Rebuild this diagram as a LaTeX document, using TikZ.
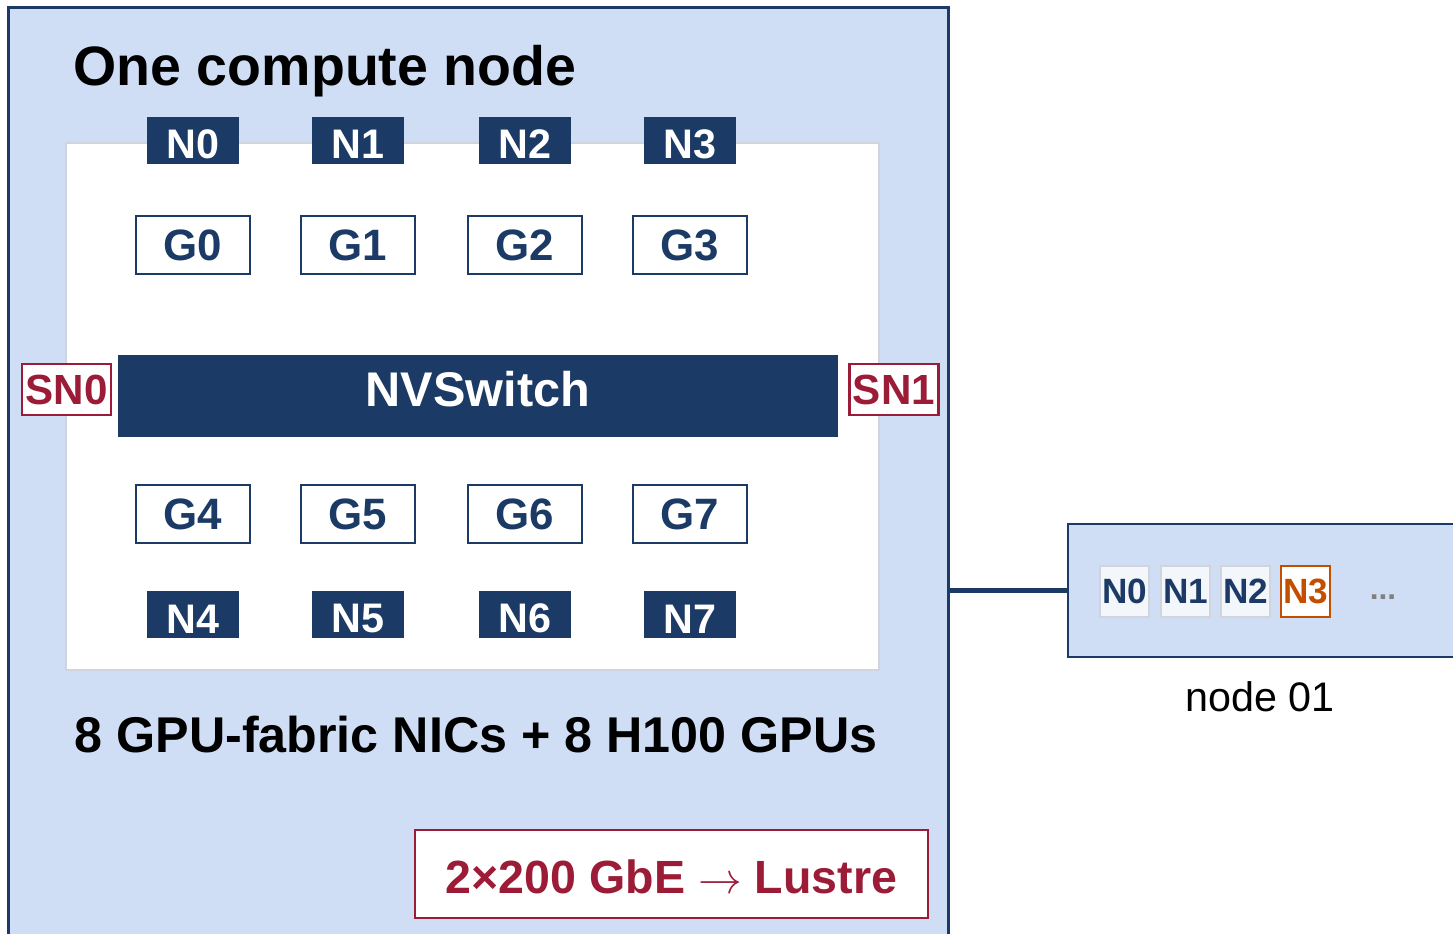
\documentclass[tikz,border=0pt]{standalone}
\usepackage{fontspec}
\setmainfont{Liberation Sans}
\definecolor{navy}{RGB}{27,58,102}
\definecolor{paleblue}{RGB}{207,221,245}
\definecolor{wine}{RGB}{156,27,55}
\definecolor{rust}{RGB}{196,78,0}
\definecolor{edgegray}{RGB}{208,213,221}
\definecolor{chipgray}{RGB}{243,246,250}
\tikzset{
  nicbox/.style={fill=navy,text=white,inner sep=0pt,minimum width=1.84cm,minimum height=0.94cm,text height=0.74cm,font=\fontsize{23.5}{26}\selectfont\bfseries},
  gpubox/.style={draw=navy,line width=1.6pt,fill=white,text=navy,inner sep=0pt,minimum width=2.28cm,minimum height=1.16cm,font=\fontsize{25}{28}\selectfont\bfseries},
  snbox/.style={draw=wine,line width=1.6pt,fill=white,text=wine,inner sep=0pt,minimum width=1.78cm,minimum height=1.02cm,font=\fontsize{24}{27}\selectfont\bfseries},
  chipbox/.style={draw=edgegray,line width=1pt,fill=chipgray,text=navy,inner sep=0pt,minimum width=0.98cm,minimum height=1.02cm,font=\fontsize{20}{23}\selectfont\bfseries},
}
\begin{document}
\begin{tikzpicture}[x=0.02cm,y=-0.02cm]
  \useasboundingbox (0,0) rectangle (1453,933);
  \clip (0,0) rectangle (1453,933);
  % compute node frame
  \node[draw=navy,line width=1.7pt,fill=paleblue,minimum width=18.82cm,minimum height=19.06cm] (cnode) at (478.5,483.5) {};
  \node[font=\fontsize{31.6}{36}\selectfont\bfseries] (title) at (325,71) {One compute node};
  \fill[white,draw=edgegray,line width=1.2pt] (66,143) rectangle (879,670);
  % NICs and GPUs
  \foreach \i/\x in {0/193,1/358,2/525,3/690} {
    \node[nicbox] (n\i) at (\x,140.5) {N\i};
    \node[gpubox] (g\i) at (\x,245) {G\i};
  }
  \foreach \i/\x in {4/193,5/358,6/525,7/690} {
    \node[gpubox] (g\i) at (\x,514) {G\i};
    \node[nicbox] (n\i) at (\x,614.5) {N\i};
  }
  \node[fill=navy,text=white,inner sep=0pt,minimum width=14.4cm,minimum height=1.64cm,text depth=0.3cm,font=\fontsize{27.7}{31}\selectfont\bfseries] (nvs) at (478,396) {NVSwitch};
  \node[snbox] (sn0) at (66.5,389.5) {SN0};
  \node[snbox] (sn1) at (894,389.5) {SN1};
  \node[font=\fontsize{28.6}{33}\selectfont\bfseries] (caption) at (476,735) {8 GPU-fabric NICs + 8 H100 GPUs};
  \node[draw=wine,line width=1.4pt,fill=white,text=wine,inner sep=0pt,minimum width=10.26cm,minimum height=1.76cm,text height=0.79cm,font=\fontsize{26.5}{30}\selectfont\bfseries] (lustre) at (671.5,874) {2×200 GbE $\rightarrow$ Lustre};
  % neighbour node
  \node[draw=navy,line width=1.3pt,fill=paleblue,minimum width=8.04cm,minimum height=2.66cm] (node01) at (1269,590.5) {};
  \foreach \i/\x in {0/1124.5,1/1185.5,2/1245.5} \node[chipbox] (m\i) at (\x,591.5) {N\i};
  \node[chipbox,draw=rust,line width=1.6pt,fill=white,text=rust] (m3) at (1305.5,591.5) {N3};
  \node[text=gray,font=\fontsize{18}{21}\selectfont\bfseries] (more) at (1383,597) {...};
  \node[font=\fontsize{23.5}{27}\selectfont] (lbl01) at (1260,697) {node 01};
  \draw[navy,line width=3pt] (cnode.east |- node01.west) -- (node01.west);
\end{tikzpicture}
\end{document}
